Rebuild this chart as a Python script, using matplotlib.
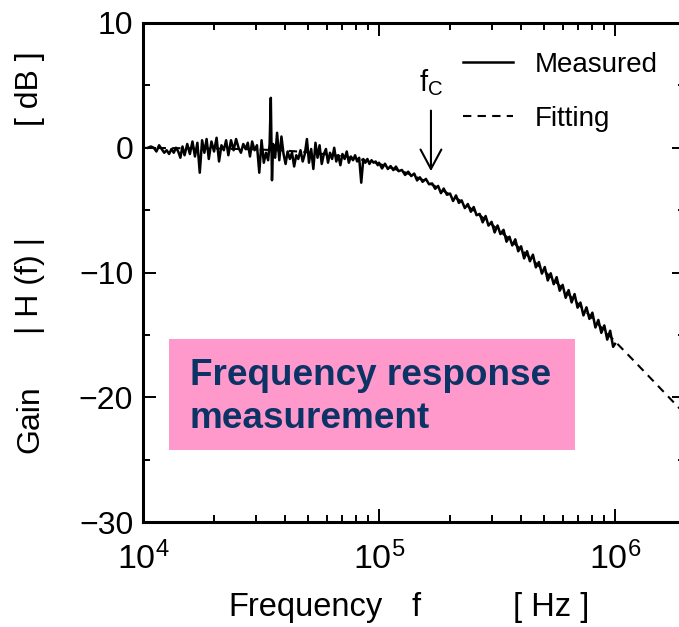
import matplotlib
matplotlib.use('Agg')
import matplotlib.pyplot as plt
from matplotlib.patches import Rectangle
from matplotlib.ticker import LogLocator, MultipleLocator

plt.rcParams['font.family'] = 'Liberation Sans'
plt.rcParams['mathtext.fontset'] = 'custom'
plt.rcParams['mathtext.rm'] = 'Liberation Sans'
plt.rcParams['mathtext.it'] = 'Liberation Sans:italic'
plt.rcParams['mathtext.bf'] = 'Liberation Sans:bold'

# Measured gain, flat part (frequency in kHz, gain in dB)
flat_khz = [10.5, 10.8, 11.1, 11.4, 11.7, 12.0, 12.3, 12.6, 12.9, 13.2,
            13.5, 13.8, 14.1, 14.4, 14.7, 15.0, 15.4, 15.8, 16.2, 16.6,
            17.0, 17.4, 17.8, 18.2, 18.6, 19.0, 19.5, 20.0, 20.5, 21.0,
            21.5, 22.0, 22.5, 23.0, 23.6, 24.2, 24.8, 25.4, 26.0, 26.6,
            27.2, 27.8, 28.4, 29.0, 29.7, 30.4, 31.1, 31.8, 32.5, 33.2,
            33.9, 34.4, 34.8, 35.2, 35.6, 36.3, 37.0, 37.8, 38.6, 39.4,
            40.2, 41.0, 41.9, 42.8, 43.7, 44.6, 45.5, 46.5, 47.5, 48.5,
            49.5, 50.5, 51.6, 52.7, 53.8, 54.9, 56.0, 57.2, 58.4, 59.6,
            60.8, 62.0, 63.3, 64.6, 65.9, 67.2, 68.6, 70.0, 71.5, 73.0,
            74.5, 76.0, 77.6, 79.2, 80.8, 82.4, 84.1, 85.8, 87.5, 89.3,
            91.1, 93.0, 94.9, 96.8, 98.8]
flat_db = [0.0, 0.1, 0.0, -0.3, 0.2, -0.1, -0.4, -0.2, -0.5, -0.1,
           -0.4, 0.0, -0.3, -0.8, 0.1, -0.6, 0.3, -0.5, 0.5, -0.7,
           0.4, -2.0, 0.6, -0.4, 0.7, -0.9, 0.5, -0.3, 0.8, -1.1,
           0.2, -0.2, 0.6, -0.6, 0.6, -0.2, 0.7, 0.0, -0.4, 0.3,
           -0.1, 0.4, -0.7, 0.5, -0.2, 0.2, -2.0, 0.6, -1.2, -0.4,
           -1.0, 0.3, 4.0, -2.6, 0.3, -0.8, 1.2, -1.0, 0.9, -0.5,
           -1.3, -0.3, -0.9, -0.4, -1.5, -0.6, -0.9, -0.2, -1.1, -0.5,
           0.7, -1.2, -0.1, -1.7, 0.4, -0.8, 0.2, -1.3, -0.5, -0.1,
           -1.2, -0.4, -0.9, 0.0, -1.1, -0.6, -1.4, -0.5, -0.9, -0.3,
           -1.2, -0.7, -1.0, -0.6, -1.1, -0.8, -2.8, -0.9, -1.2, -0.9,
           -1.3, -1.0, -1.2, -1.1, -1.4]

# Measured gain, roll-off part
roll_khz = [100, 103, 106, 109, 112, 115, 118, 121, 125, 129,
            133, 137, 141, 145, 149, 153, 158, 163, 168, 173,
            178, 183, 188, 194, 200, 206, 212, 218, 224, 231,
            238, 245, 252, 259, 267, 275, 283, 291, 300, 309,
            318, 327, 337, 347, 357, 367, 378, 389, 400, 412,
            424, 436, 449, 462, 476, 490, 504, 519, 534, 550,
            566, 583, 600, 618, 636, 655, 674, 694, 714, 735,
            757, 779, 802, 826, 850, 875, 901, 927, 954, 982, 1000]
roll_db = [-1.20, -1.66, -1.28, -1.70, -1.47, -1.79, -1.51, -1.88, -1.78, -2.18,
           -1.92, -2.27, -2.07, -2.62, -2.37, -2.73, -2.50, -2.93, -2.86, -3.29,
           -3.06, -3.64, -3.27, -3.77, -3.67, -4.27, -3.82, -4.42, -4.22, -4.84,
           -4.51, -5.13, -4.75, -5.41, -5.30, -5.98, -5.47, -6.24, -5.94, -6.79,
           -6.23, -6.92, -6.58, -7.53, -7.13, -7.83, -7.34, -8.30, -7.90, -8.87,
           -8.29, -9.10, -8.57, -9.59, -9.16, -10.09, -9.56, -10.64, -10.06, -10.94,
           -10.37, -11.46, -10.99, -12.03, -11.41, -12.40, -11.73, -12.82, -12.41, -13.44,
           -12.79, -13.72, -13.22, -14.41, -13.80, -14.84, -14.24, -15.38, -14.67, -15.96, -15.72]

# Fitted curve
fit_khz = [10, 20, 30, 40, 50, 70, 85, 100, 130, 150, 170, 190, 220, 250,
           300, 350, 400, 500, 600, 700, 800, 1000, 1200, 1500, 2000]
fit_db = [-0.01, -0.06, -0.13, -0.23, -0.36, -0.68, -0.97, -1.29, -2.00, -2.50,
          -3.01, -3.52, -4.22, -5.00, -6.14, -7.19, -8.15, -9.85, -11.29, -12.54,
          -13.65, -15.52, -17.06, -18.97, -21.44]

fc_khz = 166

meas_f = [v * 1e3 for v in flat_khz + roll_khz]
meas_db = flat_db + roll_db
fit_f = [v * 1e3 for v in fit_khz]

W, H = 679, 627
fig = plt.figure(figsize=(W / 100, H / 100), dpi=100)
ax = fig.add_axes([143 / W, 105 / H, 542 / W, 499 / H])

ax.plot(fit_f, fit_db, color='black', lw=1.5, ls=(0, (4, 3)), label='Fitting', zorder=2)
ax.plot(meas_f, meas_db, color='black', lw=1.8, label='Measured', zorder=3)

ax.set_xscale('log')
ax.set_xlim(1e4, 10 ** (4 + 542 / 236))
ax.set_ylim(-30, 10)
ax.xaxis.set_major_locator(LogLocator(base=10))
ax.xaxis.set_minor_locator(LogLocator(base=10, subs=range(2, 10)))
ax.yaxis.set_major_locator(MultipleLocator(10))
ax.yaxis.set_minor_locator(MultipleLocator(5))
ax.tick_params(which='both', direction='in', top=True, right=True, width=1.4)
ax.tick_params(which='major', length=9.5, labelsize=23)
ax.tick_params(which='minor', length=5)
ax.tick_params(axis='x', which='major', pad=14, labelsize=24.5)
ax.tick_params(axis='y', which='major', pad=7)
for s in ax.spines.values():
    s.set_linewidth(2.2)

# legend, reordered so Measured is on top
h, l = ax.get_legend_handles_labels()
ax.legend(h[::-1], l[::-1], frameon=False, fontsize=20, handlelength=1.8,
          handletextpad=0.8, labelspacing=1.0, loc='upper left',
          bbox_to_anchor=(463 / W, 1 - 52 / H), bbox_transform=fig.transFigure,
          borderpad=0, borderaxespad=0)

# cutoff arrow
ax.annotate('', xy=(fc_khz * 1e3, -2.1), xytext=(fc_khz * 1e3, 3.2),
            arrowprops=dict(arrowstyle='->,head_length=1.4,head_width=0.75',
                            color='black', lw=1.5))
ax.text(fc_khz * 1e3, 5.2, r'f$_{\mathrm{C}}$', fontsize=21, ha='center', va='center')

# axis labels built from pieces
fig.text(30 / W, 1 - 419 / H, 'Gain', rotation=90, fontsize=23, ha='center', va='center')
fig.text(30 / W, 1 - 285 / H, '| H (f) |', rotation=90, fontsize=23, ha='center', va='center')
fig.text(30 / W, 1 - 89 / H, '[ dB ]', rotation=90, fontsize=23, ha='center', va='center')
fig.text(228 / W, 1 - 616 / H, 'Frequency', fontsize=23.5, va='baseline')
fig.text(412 / W, 1 - 616 / H, 'f', fontsize=23.5, va='baseline')
fig.text(513 / W, 1 - 616 / H, '[ Hz ]', fontsize=23.5, va='baseline')

# pink caption box
fig.patches.append(Rectangle((169 / W, 1 - 450 / H), 406 / W, 111 / H,
                             transform=fig.transFigure, facecolor='#ff99cc',
                             edgecolor='none', zorder=5))
fig.text(190 / W, 1 - 385 / H, 'Frequency response', fontsize=26.6, fontweight='bold',
         color='#0b3366', va='baseline', zorder=6)
fig.text(190 / W, 1 - 428 / H, 'measurement', fontsize=26.6, fontweight='bold',
         color='#0b3366', va='baseline', zorder=6)

fig.savefig('out.png', dpi=100)
